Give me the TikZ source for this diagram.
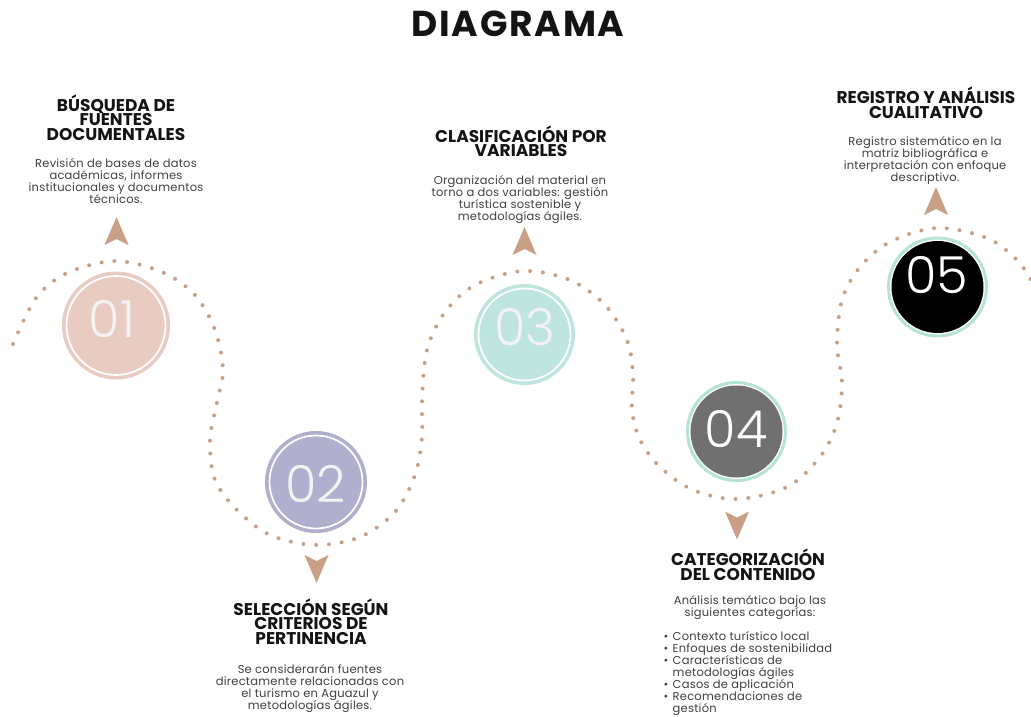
\documentclass[tikz,border=0pt]{standalone}
\usepackage{fontspec}
\setmainfont{Poppins}
\newfontfamily\numfont{Poppins Light}
\newfontfamily\bodyfont{Poppins}[LetterSpace=2]
\newfontfamily\titlefont{Poppins Bold}[LetterSpace=5]
\lineskiplimit=-100pt
\lineskip=0pt
\definecolor{headc}{HTML}{141414}
\definecolor{bodyc}{HTML}{404040}
\definecolor{tanc}{HTML}{C9A085}
\definecolor{c1fill}{HTML}{E8CCC1}
\definecolor{c2fill}{HTML}{B1AFCE}
\definecolor{c3fill}{HTML}{BFE6DC}
\definecolor{c4fill}{HTML}{707070}
\definecolor{c5fill}{HTML}{000000}
\definecolor{mintc}{HTML}{B5E3D6}
\definecolor{numc}{HTML}{F3F3F3}
\newcommand{\hstrut}{\rule{0pt}{17pt}}
\newcommand{\bstrut}{\rule{0pt}{10.5pt}}
\newcommand{\bul}{\makebox[9pt][l]{\textbullet}}
\newcommand{\ind}{\hspace*{9pt}}
\tikzset{
  titletext/.style={font=\titlefont\fontsize{36}{36}\selectfont, text=headc, inner sep=0pt, anchor=base},
  headtext/.style={font=\bfseries\fontsize{17}{14.5}\selectfont, text=headc, align=center, inner sep=0pt, anchor=north},
  bodytext/.style={font=\bodyfont\fontsize{11.5}{12}\selectfont, text=bodyc, align=center, inner sep=0pt, anchor=north},
  listtext/.style={font=\bodyfont\fontsize{11.5}{12}\selectfont, text=bodyc, align=left, inner sep=0pt, anchor=north west},
  numtext/.style={font=\numfont\fontsize{51}{51}\selectfont, text=numc, inner sep=0pt, anchor=base},
  disc/.style={circle, inner sep=0pt, draw=none},
  whitering/.style={draw=white, line width=1.7pt},
  mintring/.style={draw=mintc, line width=3pt},
  dotline/.style={draw=tanc, line width=4pt, line cap=round, dash pattern=on 0pt off 12.8pt},
  uparr/.pic={\fill[tanc] (0,-14) -- (12,14) -- (0,8) -- (-12,14) -- cycle;},
  downarr/.pic={\fill[tanc] (0,14) -- (12,-14) -- (0,-8) -- (-12,-14) -- cycle;}
}
\begin{document}
\begin{tikzpicture}[x=1pt,y=-1pt]
\useasboundingbox[fill=white] (0,0) rectangle (1031,717);

% title
\node[titletext] (title) at (518,37) {DIAGRAMA};

% dotted wave
\draw[dotline] plot[smooth, tension=0.55] coordinates {
 (13,344) (36,298) (67,273) (115,261) (162,272) (195,295) (215,330) (223,370)
 (217,402) (210,440) (215,480) (237,510) (270,535) (315,545) (360,537) (395,512)
 (415,475) (422,437) (422,400) (427,350) (445,312) (475,285) (523,271) (570,280)
 (605,305) (627,340) (633,375) (632,410) (640,440) (660,467) (693,490) (737,499)
 (787,487) (820,457) (837,423) (842,383) (837,345) (842,300) (860,267) (890,242)
 (937,228) (987,238) (1017,260) (1031,280)};

% circles
\node[disc, fill=c1fill, minimum size=108pt] (c1) at (116,325.5) {};
\draw[whitering] (c1.center) circle[radius=49.5pt];
\node[disc, fill=c2fill, minimum size=102pt] (c2) at (316,482) {};
\draw[whitering] (c2.center) circle[radius=46.5pt];
\node[disc, fill=c3fill, minimum size=101pt] (c3) at (524.5,334.5) {};
\draw[whitering] (c3.center) circle[radius=46pt];
\node[disc, fill=c4fill, minimum size=92pt] (c4) at (736.5,431.5) {};
\draw[mintring] (c4.center) circle[radius=49pt];
\node[disc, fill=c5fill, minimum size=92pt] (c5) at (937.5,287) {};
\draw[mintring] (c5.center) circle[radius=49pt];

% numbers
\node[numtext] (n1) at (112,337) {01};
\node[numtext] (n2) at (315.5,502) {02};
\node[numtext] (n3) at (525,345) {03};
\node[numtext, text=white] (n4) at (736,447) {04};
\node[numtext, text=white] (n5) at (937,293) {05};

% arrowheads
\pic at (116.5,231) {uparr};
\pic at (316.5,569) {downarr};
\pic at (524.5,241) {uparr};
\pic at (737,525.5) {downarr};
\pic at (936,201) {uparr};

% step 1
\node[headtext] (h1) at (116,94) {\hstrut BÚSQUEDA DE\\FUENTES\\DOCUMENTALES};
\node[bodytext] (b1) at (116,156.5) {\bstrut Revisión de bases de datos\\académicas, informes\\institucionales y documentos\\técnicos.};

% step 2
\node[headtext] (h2) at (311,598) {\hstrut SELECCIÓN SEGÚN\\CRITERIOS DE\\PERTINENCIA};
\node[bodytext] (b2) at (310,662.5) {\bstrut Se considerarán fuentes\\directamente relacionadas con\\el turismo en Aguazul y\\metodologías ágiles.};

% step 3
\node[headtext] (h3) at (521,125) {\hstrut CLASIFICACIÓN POR\\VARIABLES};
\node[bodytext] (b3) at (520,173.5) {\bstrut Organización del material en\\torno a dos variables: gestión\\turística sostenible y\\metodologías ágiles.};

% step 4
\node[headtext] (h4) at (748,548.5) {\hstrut CATEGORIZACIÓN\\DEL CONTENIDO};
\node[bodytext] (b4) at (750,594) {\bstrut Análisis temático bajo las\\siguientes categorías:};
\node[listtext] (l4) at (663.5,629.5) {\bstrut\bul Contexto turístico local\\\bul Enfoques de sostenibilidad\\\bul Características de\\\ind metodologías ágiles\\\bul Casos de aplicación\\\bul Recomendaciones de\\\ind gestión};

% step 5
\node[headtext] (h5) at (926,86.5) {\hstrut REGISTRO Y ANÁLISIS\\CUALITATIVO};
\node[bodytext] (b5) at (925,135) {\bstrut Registro sistemático en la\\matriz bibliográfica e\\interpretación con enfoque\\descriptivo.};
\end{tikzpicture}
\end{document}
